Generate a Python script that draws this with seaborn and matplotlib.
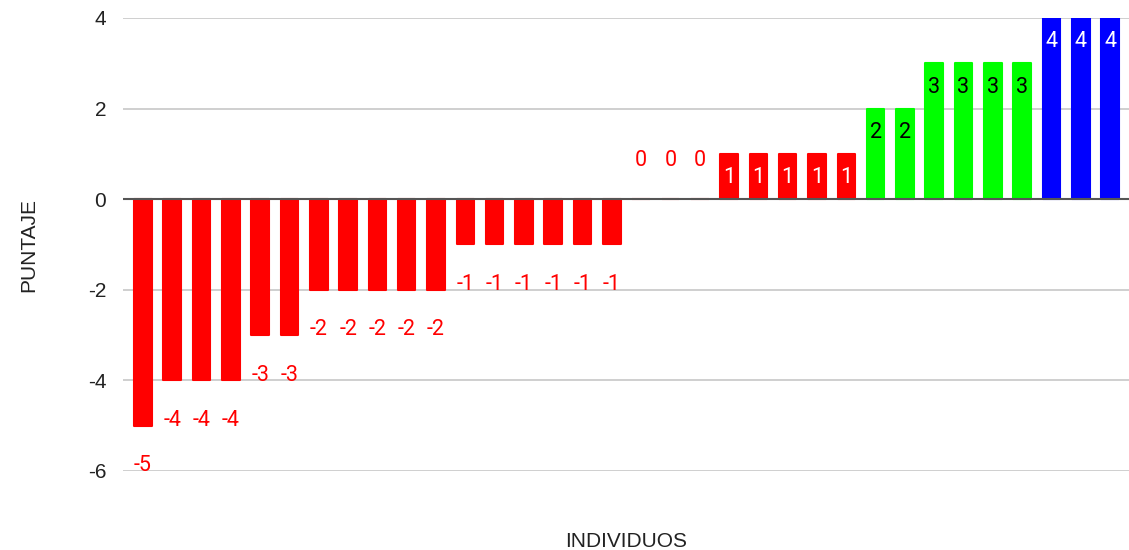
import matplotlib
matplotlib.use("Agg")
import matplotlib.pyplot as plt
import seaborn as sns
import pandas as pd

# ---- data ----
individuos = [f"I{i+1}" for i in range(34)]
puntajes = [-5, -4, -4, -4, -3, -3, -2, -2, -2, -2, -2,
            -1, -1, -1, -1, -1, -1, 0, 0, 0, 1, 1, 1, 1, 1,
            2, 2, 3, 3, 3, 3, 4, 4, 4]
y_ticks = [-6, -4, -2, 0, 2, 4]
y_label = "PUNTAJE"
x_label = "INDIVIDUOS"

RED, GREEN, BLUE = "#ff0000", "#00ff00", "#0000ff"

def bar_color(v):
    if v >= 4:
        return BLUE
    if v >= 2:
        return GREEN
    return RED

def label_color(v):
    if v >= 4:
        return "white"
    if v >= 2:
        return "black"
    if v == 1:
        return "white"
    return RED

sns.set_theme(style="white")
plt.rcParams["font.family"] = ["Liberation Sans", "DejaVu Sans"]

df = pd.DataFrame({"ind": individuos, "val": puntajes})
palette = {k: bar_color(v) for k, v in zip(individuos, puntajes)}

fig = plt.figure(figsize=(11.29, 5.5), dpi=100)
ax = fig.add_axes([123 / 1129, 79 / 550, (1130 - 123) / 1129, 453 / 550])

sns.barplot(data=df, x="ind", y="val", hue="ind", palette=palette,
            order=individuos, hue_order=individuos, width=0.6,
            legend=False, saturation=1, ax=ax, errorbar=None)

for p in ax.patches:
    p.set_edgecolor(p.get_facecolor())
    p.set_linewidth(1.5)
    p.set_joinstyle("round")

ax.set_ylim(-6, 4)
ax.set_xlim(-0.68, len(individuos) - 1 + 0.68)
ax.set_yticks(y_ticks)
ax.set_yticklabels([str(t) for t in y_ticks])
ax.set_xticks([])
ax.tick_params(axis="y", length=0, pad=12, labelsize=15, labelcolor="#222222")
ax.yaxis.grid(True, color="#cccccc", linewidth=1.3)
ax.set_axisbelow(True)
for s in ax.spines.values():
    s.set_visible(False)
ax.axhline(0, color="#555555", linewidth=1.5, zorder=3)

ax.set_ylabel(y_label, fontsize=15, color="#222222", labelpad=36)
ax.set_xlabel(x_label, fontsize=15, color="#222222", labelpad=44)

# bar labels
bars = [p for p in ax.patches][:len(puntajes)]
for p, v in zip(bars, puntajes):
    xc = p.get_x() + p.get_width() / 2
    if v < 0:
        off = -40
    elif v == 0:
        off = 39
    else:
        off = -24
    ax.annotate(str(v), xy=(xc, v), xytext=(0, off), textcoords="offset pixels",
                ha="center", va="center", fontsize=15.5, color=label_color(v),
                family=["Roboto", "DejaVu Sans"], zorder=5, annotation_clip=False)

fig.savefig("out.png", dpi=100)
